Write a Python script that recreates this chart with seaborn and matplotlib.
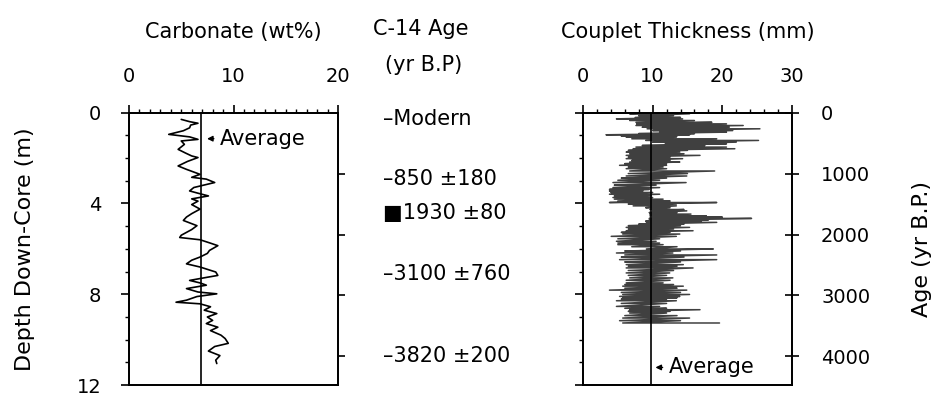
import matplotlib
matplotlib.use('Agg')
import matplotlib.pyplot as plt
import seaborn as sns
import pandas as pd

# carbonate (wt%) vs depth (m)
carb_depth = [0.30, 0.40, 0.47, 0.55, 0.67, 0.80, 0.96, 1.07, 1.18, 1.25, 1.40, 1.62, 1.78, 1.91,
              1.98, 2.15, 2.35, 2.50, 2.72, 2.85, 2.93, 3.08, 3.20, 3.30, 3.45, 3.55, 3.67, 3.80,
              3.90, 4.05, 4.25, 4.45, 4.60, 4.75, 4.98, 5.15, 5.40, 5.50, 5.60, 5.75, 5.86, 6.07,
              6.20, 6.36, 6.50, 6.66, 6.80, 7.02, 7.17, 7.25, 7.39, 7.50, 7.60, 7.75, 7.90, 7.98,
              8.10, 8.26, 8.35, 8.42, 8.55, 8.70, 8.85, 9.00, 9.15, 9.29, 9.45, 9.60, 9.80, 9.95,
              10.16, 10.30, 10.50, 10.70, 10.90, 11.05]
carb_value = [5.0, 5.8, 6.6, 5.9, 5.8, 5.2, 3.8, 5.8, 6.6, 5.0, 5.3, 4.7, 5.4, 6.0,
              6.6, 5.6, 4.7, 5.5, 6.8, 6.0, 7.4, 8.2, 7.1, 6.2, 5.8, 6.6, 7.6, 6.0,
              6.6, 6.0, 6.8, 6.0, 5.5, 5.2, 6.5, 6.0, 5.0, 4.85, 6.8, 7.8, 8.5, 7.7,
              7.5, 6.8, 6.0, 5.5, 6.8, 8.3, 8.5, 7.5, 5.8, 6.8, 7.4, 5.5, 6.6, 8.4,
              6.5, 5.5, 4.5, 6.8, 7.8, 7.2, 8.4, 7.5, 8.0, 7.4, 8.5, 7.8, 8.8, 9.2,
              9.5, 8.2, 7.6, 8.7, 8.3, 8.4]
carb_avg = 6.9

# C-14 dates and their depth in the core (m)
c14_text = ['Modern', '850 \u00b1180', '1930 \u00b180', '3100 \u00b1760', '3820 \u00b1200']
c14_depth = [0.3, 2.93, 4.4, 7.1, 10.7]
c14_mark = ['\u2013', '\u2013', '\u25a0', '\u2013', '\u2013']

# couplet thickness (mm): narrow and wide extent at each age (yr B.P.)
cp_age = [0, 20, 50, 80, 103, 130, 160, 185, 212, 240, 266, 295, 321, 345, 364, 385, 403, 430,
          457, 485, 512, 540, 566, 593, 620, 648, 675, 702, 730, 756, 785, 811, 838, 865, 892,
          920, 958, 1000, 1040, 1075, 1110, 1148, 1190, 1230, 1260, 1285, 1310, 1339, 1365,
          1393, 1420, 1450, 1475, 1500, 1530, 1560, 1590, 1612, 1640, 1665, 1694, 1715, 1736,
          1760, 1780, 1801, 1830, 1855, 1883, 1910, 1938, 1965, 1992, 2030, 2070, 2111, 2140,
          2166, 2200, 2237, 2270, 2303, 2335, 2370, 2412, 2450, 2494, 2520, 2548, 2590, 2630,
          2670, 2711, 2750, 2793, 2820, 2847, 2880, 2912, 2950, 2983, 3015, 3037, 3060, 3086,
          3130, 3179, 3210, 3233, 3260, 3288, 3330, 3370, 3413, 3451]
cp_lo = [6.5, 6.7, 8.0, 7.5, 4.8, 6.7, 7.6, 7.7, 7.6, 8.5, 9.2, 10.0, 11.0, 8.0, 3.3, 5.5, 6.2, 7.0,
         9.0, 10.0, 11.8, 8.5, 7.6, 7.2, 6.5, 6.2, 6.7, 6.2, 6.5, 6.2, 7.0, 6.7, 6.0, 5.25, 6.5,
         6.2, 6.7, 6.5, 6.2, 5.5, 5.0, 4.3, 4.5, 4.3, 3.8, 3.8, 4.0, 3.8, 4.5,
         4.3, 4.5, 5.0, 3.8, 6.5, 7.2, 9.0, 9.6, 10.0, 9.5, 9.6, 9.6, 10.0, 9.5,
         9.5, 9.0, 9.1, 8.0, 6.5, 6.2, 6.5, 6.2, 5.5, 5.7, 4.05, 5.0, 4.8, 5.0,
         5.0, 7.0, 9.1, 6.0, 4.8, 6.0, 5.5, 5.25, 6.0, 6.2, 6.5, 6.2, 6.5, 6.2,
         6.5, 6.7, 6.2, 6.2, 6.0, 5.7, 6.0, 3.8, 5.5, 5.7, 5.25, 5.7, 5.5, 4.8,
         5.5, 4.8, 6.0, 6.7, 6.5, 6.7, 6.0, 5.7, 5.25, 5.7]
cp_hi = [12.0, 15.3, 13.0, 14.0, 14.3, 16.0, 18.5, 20.6, 23.0, 21.0, 25.4, 21.5, 20.6, 16.0, 15.3,
         13.5, 13.4, 19.2, 25.2, 22.0, 20.6, 17.5, 20.6, 21.8, 15.0, 13.9, 14.5, 16.8, 12.5, 14.3,
         12.5, 13.9, 12.0, 12.0, 11.5, 12.0, 18.9, 15.0, 14.9, 12.0, 11.0, 14.8, 10.5, 11.0, 9.5,
         8.6, 10.0, 11.0, 9.8, 10.0, 11.5, 12.5, 19.2, 13.4, 13.4, 12.5, 14.5, 14.9, 13.5, 15.5,
         17.7, 20.0, 24.2, 18.0, 17.0, 19.2, 14.5, 14.0, 15.3, 13.0, 15.8, 12.5, 13.9, 13.4,
         11.0, 10.5, 11.0, 11.5, 13.5, 18.7, 14.0, 12.9, 19.2, 14.5, 19.2, 14.0, 14.4, 13.5,
         15.8, 13.0, 12.45, 12.0, 12.9, 12.5, 11.5, 13.0, 14.4, 13.5, 14.9, 14.0, 15.3, 13.9,
         13.5, 12.0, 13.4, 12.0, 11.0, 12.0, 16.8, 12.5, 12.0, 13.5, 15.3, 14.0, 19.6]
cp_avg = 9.7

age_max = 4470
depth_max = 12

sns.set_theme(style='white')
plt.rcParams['font.family'] = ['DejaVu Sans']
plt.rcParams['axes.linewidth'] = 1.3
plt.rcParams['text.color'] = 'black'
plt.rcParams['axes.labelcolor'] = 'black'
plt.rcParams['xtick.color'] = 'black'
plt.rcParams['ytick.color'] = 'black'
plt.rcParams['axes.edgecolor'] = 'black'

fig = plt.figure(figsize=(9.37, 3.95), dpi=100)
box_bottom = 0.025
box_h = 0.69

# ---------------- carbonate panel
ax1 = fig.add_axes([0.1377, box_bottom, 0.223, box_h])
ax1r = ax1.twinx()
df_c = pd.DataFrame({'depth': carb_depth, 'carb': carb_value})
sns.lineplot(data=df_c, x='carb', y='depth', orient='y', sort=False, estimator=None,
             color='black', linewidth=1.2, ax=ax1)
ax1.axvline(carb_avg, color='black', linewidth=1.2)
ax1.set_xlim(0, 20)
ax1.set_ylim(depth_max, 0)
ax1.xaxis.tick_top()
ax1.yaxis.tick_left()
ax1.set_xticks([0, 10, 20])
ax1.set_xticks(range(0, 21), minor=True)
ax1.set_yticks([0, 4, 8, 12])
ax1.set_yticks(range(0, 13), minor=True)
ax1.tick_params(axis='both', which='major', direction='out', length=6, width=1.2,
                labelsize=14, left=True, top=True, bottom=False)
ax1.tick_params(axis='both', which='minor', direction='out', length=3, width=1,
                left=True, top=True, bottom=False)
ax1.tick_params(axis='x', pad=13)
ax1.tick_params(axis='y', pad=14)
ax1.set_xlabel('')
ax1.set_ylabel('Depth Down-Core (m)', fontsize=16, labelpad=30)
ax1.set_title('Carbonate (wt%)', fontsize=15, pad=54)
ax1.annotate('Average', xy=(carb_avg + 0.3, 1.15), xytext=(carb_avg + 1.8, 1.15),
             fontsize=15, va='center',
             arrowprops=dict(arrowstyle='-|>', color='black', lw=1, mutation_scale=8))

# age ticks on the right side of the carbonate panel
ax1r.set_ylim(age_max, 0)
ax1r.yaxis.tick_right()
ax1r.set_yticks([1000, 2000, 3000, 4000])
ax1r.set_yticklabels([])
ax1r.tick_params(axis='y', direction='out', length=5, width=1.2, right=True)
ax1r.grid(False)

# ---------------- C-14 column
axm = fig.add_axes([0.405, box_bottom, 0.19, box_h])
axm.set_xlim(0, 1)
axm.set_ylim(depth_max, 0)
axm.axis('off')
for mark, txt, d in zip(c14_mark, c14_text, c14_depth):
    axm.text(0.02, d, mark + txt, fontsize=15, va='center', ha='left')
axm.text(0.23, -3.7, 'C-14 Age', fontsize=15, ha='center', va='center')
axm.text(0.25, -2.1, '(yr B.P)', fontsize=15, ha='center', va='center')

# ---------------- couplet thickness panel
ax2 = fig.add_axes([0.6222, box_bottom, 0.223, box_h])
ax2l = ax2.twinx()
rows = []
for a, lo, hi in zip(cp_age, cp_lo, cp_hi):
    rows.append((a, lo))
    rows.append((a, hi))
df_t = pd.DataFrame(rows, columns=['age', 'thick'])
sns.lineplot(data=df_t, x='thick', y='age', orient='y', sort=False, estimator=None,
             color='black', linewidth=1.1, alpha=0.75, ax=ax2)
ax2.axvline(cp_avg, color='black', linewidth=1.2)
ax2.set_xlim(0, 30)
ax2.set_ylim(age_max, 0)
ax2.xaxis.tick_top()
ax2.yaxis.tick_right()
ax2.yaxis.set_label_position('right')
ax2.set_xticks([0, 10, 20, 30])
ax2.set_xticks(range(0, 31, 2), minor=True)
ax2.set_yticks([0, 1000, 2000, 3000, 4000])
ax2.tick_params(axis='x', which='major', direction='out', length=6, width=1.2,
                labelsize=14, pad=13, top=True, bottom=False)
ax2.tick_params(axis='x', which='minor', direction='out', length=3, width=1,
                top=True, bottom=False)
ax2.tick_params(axis='y', which='major', direction='inout', length=10, width=1.2,
                labelsize=14, pad=16, right=True, left=False)
ax2.set_xlabel('')
ax2.set_ylabel('Age (yr B.P.)', fontsize=16, labelpad=30)
ax2.set_title('Couplet Thickness (mm)', fontsize=15, pad=54)
ax2.annotate('Average', xy=(cp_avg + 0.3, 4180), xytext=(cp_avg + 2.6, 4180),
             fontsize=15, va='center',
             arrowprops=dict(arrowstyle='-|>', color='black', lw=1, mutation_scale=8))

# depth ticks on the left side of the thickness panel
ax2l.yaxis.tick_left()
ax2l.set_ylim(depth_max, 0)
ax2l.set_yticks([0, 4, 8, 12])
ax2l.set_yticks(range(0, 13), minor=True)
ax2l.set_yticklabels([])
ax2l.tick_params(axis='y', which='major', direction='out', length=6, width=1.2,
                 left=True, right=False)
ax2l.tick_params(axis='y', which='minor', direction='out', length=3, width=1,
                 left=True, right=False)
ax2l.grid(False)

fig.savefig('out.png', dpi=100, facecolor='white')
